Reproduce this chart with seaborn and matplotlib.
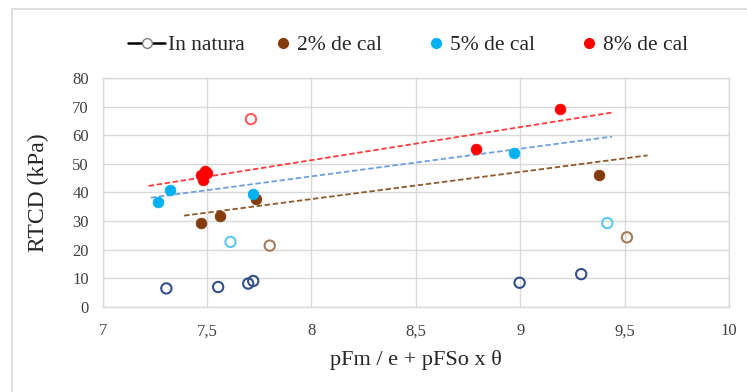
import numpy as np
import pandas as pd
import matplotlib
matplotlib.use("Agg")
import matplotlib.pyplot as plt
from matplotlib.lines import Line2D
from matplotlib.patches import Rectangle
import seaborn as sns

# ---- data ----
natura_x = [7.305, 7.553, 7.697, 7.721, 8.997, 9.292]
natura_y = [6.4, 6.9, 8.1, 9.0, 8.4, 11.4]

cal2_x = [7.47, 7.564, 7.736, 9.377]
cal2_y = [29.4, 31.9, 37.6, 46.3]
cal2_open_x = [7.80, 9.511]
cal2_open_y = [21.4, 24.3]

cal5_x = [7.263, 7.32, 7.72, 8.971]
cal5_y = [36.8, 40.9, 39.4, 53.9]
cal5_open_x = [7.612, 9.417]
cal5_open_y = [22.7, 29.3]

cal8_x = [7.49, 7.47, 7.48, 7.50, 8.788, 9.19]
cal8_y = [47.5, 46.3, 44.5, 47.0, 55.3, 69.3]
cal8_open_x = [7.71]
cal8_open_y = [65.7]

# trend lines (start / end)
trend_cal2_x = [7.39, 9.61]
trend_cal2_y = [31.9, 53.0]
trend_cal5_x = [7.23, 9.44]
trend_cal5_y = [38.2, 59.6]
trend_cal8_x = [7.22, 9.44]
trend_cal8_y = [42.3, 68.0]

x_ticks = [7, 7.5, 8, 8.5, 9, 9.5, 10]
x_tick_labels = ["7", "7,5", "8", "8,5", "9", "9,5", "10"]
y_ticks = [0, 10, 20, 30, 40, 50, 60, 70, 80]

legend_labels = ["In natura", "2% de cal", "5% de cal", "8% de cal"]

# ---- styling ----
sns.set_theme(style="white")
plt.rcParams['font.family'] = ['Liberation Serif', 'DejaVu Serif']

C_NAT = "#34508A"
C_BROWN = "#843C0C"
C_BLUE = "#00B0F0"
C_RED = "#FF0000"
C_BROWN_O = "#A67C5B"
C_BLUE_O = "#5BC8F0"
C_RED_O = "#FF5B5B"
GRID = "#D9D9D9"

W, H = 747, 392
fig = plt.figure(figsize=(W / 100, H / 100), dpi=100)
ax = fig.add_axes([102.7 / W, 1 - 306.7 / H, (729 - 102.7) / W, (306.7 - 78.3) / H])

# outer chart border
fig.patches.append(Rectangle((12 / W, -0.1), 2, 1.1 - 9 / H, transform=fig.transFigure,
                             fill=False, edgecolor="#D9D9D9", linewidth=1.2, zorder=0))

# trend lines
for tx, ty, col in [(trend_cal2_x, trend_cal2_y, "#8B5A2B"),
                    (trend_cal5_x, trend_cal5_y, "#6FA0DC"),
                    (trend_cal8_x, trend_cal8_y, "#FF3B3B")]:
    sns.lineplot(x=tx, y=ty, ax=ax, color=col, linestyle=(0, (3, 1.5)), linewidth=1.3, zorder=2)

def open_pts(xs, ys, col):
    sns.scatterplot(x=xs, y=ys, ax=ax, s=55, facecolor="none", edgecolor=col, linewidth=1.5, zorder=3)

def filled_pts(xs, ys, col):
    sns.scatterplot(x=xs, y=ys, ax=ax, s=60, color=col, edgecolor=col, linewidth=0.5, zorder=4)

open_pts(natura_x, natura_y, C_NAT)
open_pts(cal2_open_x, cal2_open_y, C_BROWN_O)
open_pts(cal5_open_x, cal5_open_y, C_BLUE_O)
open_pts(cal8_open_x, cal8_open_y, C_RED_O)
filled_pts(cal2_x, cal2_y, C_BROWN)
filled_pts(cal5_x, cal5_y, C_BLUE)
filled_pts(cal8_x, cal8_y, C_RED)

ax.set_xlim(7, 10)
ax.set_ylim(0, 80)
ax.set_xticks(x_ticks)
ax.set_xticklabels(x_tick_labels)
ax.set_yticks(y_ticks)
ax.grid(True, color=GRID, linewidth=1.0)
ax.set_axisbelow(True)
for sp in ax.spines.values():
    sp.set_color(GRID)
    sp.set_linewidth(1.0)
ax.tick_params(axis="both", length=0, labelsize=12, colors="#404040")
ax.tick_params(axis="x", pad=12)
ax.tick_params(axis="y", pad=10)
ax.set_xlabel("pFm / e + pFSo x θ", fontsize=16, color="#262626")
ax.set_ylabel("RTCD (kPa)", fontsize=17, color="#262626")
ax.xaxis.set_label_coords(0.5, (306.7 - 360) / 228.4)
ax.xaxis.label.set_va("center")
ax.yaxis.set_label_coords((38 - 102.7) / 626.3, 0.5)
ax.yaxis.label.set_va("center")

LFS = 15.5
fpx = LFS * 100 / 72
h_nat = [Line2D([0], [0], color="black", linewidth=1.8, marker="o", markersize=7,
                markerfacecolor="white", markeredgecolor="#7F7F7F")]
h_dots = [Line2D([0], [0], linestyle="none", marker="o", markersize=7, color=c)
          for c in (C_BROWN, C_BLUE, C_RED)]

leg1 = fig.legend(h_nat, legend_labels[:1], loc="center left",
                  bbox_to_anchor=(128 / W, 1 - 45 / H), frameon=False, fontsize=LFS,
                  handlelength=37 / fpx, handletextpad=3 / fpx, borderpad=0, borderaxespad=0)
leg2 = fig.legend(h_dots, legend_labels[1:], loc="center left",
                  bbox_to_anchor=((283 - 0.4 * fpx) / W, 1 - 45 / H), ncol=3, frameon=False,
                  fontsize=LFS, handlelength=0.8, handletextpad=0.25, columnspacing=2.1,
                  borderpad=0, borderaxespad=0)

fig.savefig("out.png", dpi=100)
